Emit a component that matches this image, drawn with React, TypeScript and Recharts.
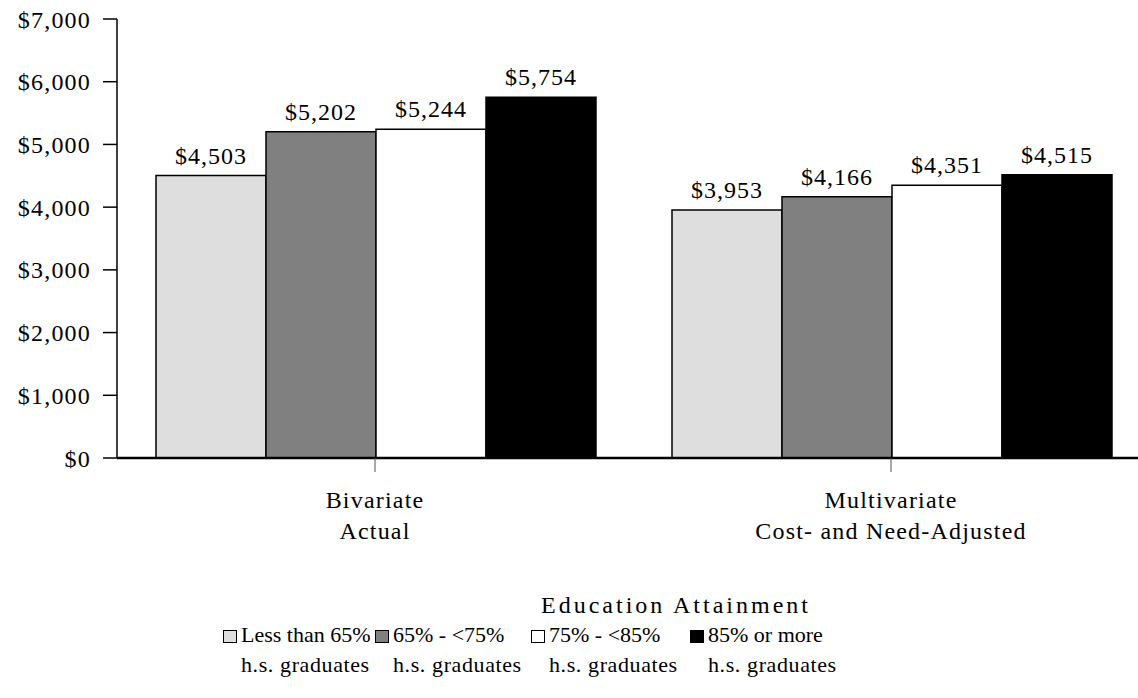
import { Bar, BarChart, LabelList, Legend, XAxis, YAxis } from "recharts";

const categories = [
  ["Bivariate", "Actual"],
  ["Multivariate", "Cost- and Need-Adjusted"],
];
const lessThan65 = [4503, 3953];
const from65to75 = [5202, 4166];
const from75to85 = [5244, 4351];
const over85 = [5754, 4515];
const yTicks = [0, 1000, 2000, 3000, 4000, 5000, 6000, 7000];

const seriesNames = [
  ["Less than 65%", "h.s. graduates"],
  ["65% - <75%", "h.s. graduates"],
  ["75% - <85%", "h.s. graduates"],
  ["85% or more", "h.s. graduates"],
];
const seriesKeys = ["s0", "s1", "s2", "s3"];
const seriesFills = ["#dedede", "#808080", "#ffffff", "#000000"];

const data = categories.map((c, i) => ({
  name: c.join("\n"),
  s0: lessThan65[i],
  s1: from65to75[i],
  s2: from75to85[i],
  s3: over85[i],
}));

const FONT = "Liberation Serif, Times New Roman, serif";
const money = (v: unknown) => "$" + Number(v).toLocaleString("en-US");

function CategoryTick(props: any) {
  const { x, y, payload } = props;
  const lines = String(payload.value).split("\n");
  return (
    <g transform={`translate(${x},${y})`}>
      {lines.map((l, i) => (
        <text
          key={i}
          x={0}
          y={0}
          dy={34 + i * 31}
          textAnchor="middle"
          fill="#000"
          fontSize={24}
          fontFamily={FONT}
          letterSpacing={1.2}
        >
          {l}
        </text>
      ))}
    </g>
  );
}

const itemWidths = [152, 156, 159, 160];

function EduLegend(props: any) {
  const payload = [...(props.payload || [])].sort(
    (a: any, b: any) => seriesKeys.indexOf(a.dataKey) - seriesKeys.indexOf(b.dataKey)
  );
  return (
    <div style={{ height: 110, fontFamily: FONT, fontSize: 22, color: "#000" }}>
      <div style={{ lineHeight: "30px", paddingTop: 2, paddingLeft: 541, fontSize: 24, letterSpacing: 3, whiteSpace: "nowrap" }}>
        Education Attainment
      </div>
      <div style={{ display: "flex", paddingLeft: 223 }}>
        {payload.map((p: any, i: number) => {
          const idx = seriesKeys.indexOf(p.dataKey);
          return (
            <div key={i} style={{ display: "flex", width: itemWidths[idx], alignItems: "flex-start" }}>
              <div
                style={{
                  width: 12,
                  height: 11,
                  marginTop: 10,
                  marginRight: 4,
                  background: seriesFills[idx],
                  border: "1px solid #000",
                  flexShrink: 0,
                }}
              />
              <div style={{ lineHeight: "30px", whiteSpace: "nowrap" }}>
                <div>{seriesNames[idx][0]}</div>
                <div style={{ letterSpacing: 0.6 }}>{seriesNames[idx][1]}</div>
              </div>
            </div>
          );
        })}
      </div>
    </div>
  );
}

export default function App() {
  return (
    <div
      style={{
        position: "absolute",
        left: 0,
        top: 0,
        width: 1138,
        height: 698,
        overflow: "hidden",
        background: "#fff",
        fontFamily: FONT,
      }}
    >
      <BarChart
        width={1160}
        height={698}
        data={data}
        margin={{ top: 19, right: 11, bottom: 0, left: 0 }}
        barCategoryGap={39}
        barGap={0}
      >
        <YAxis
          width={117}
          domain={[0, 7000]}
          ticks={yTicks}
          tickFormatter={money}
          axisLine={{ stroke: "#000", strokeWidth: 1.5 }}
          tickLine={{ stroke: "#000", strokeWidth: 1.5 }}
          tickSize={14}
          tickMargin={12}
          tick={{ fill: "#000", fontSize: 24, fontFamily: FONT, letterSpacing: 1.2 }}
        />
        <XAxis
          dataKey="name"
          height={130}
          axisLine={{ stroke: "#000", strokeWidth: 2.5 }}
          tickLine={{ stroke: "#555", strokeWidth: 1 }}
          tickSize={14}
          tick={<CategoryTick />}
          interval={0}
        />
        <Legend verticalAlign="bottom" content={<EduLegend />} />
        {seriesKeys.map((k, i) => (
          <Bar
            key={k}
            dataKey={k}
            name={seriesNames[i].join(" ")}
            fill={seriesFills[i]}
            stroke="#000"
            strokeWidth={1.5}
            isAnimationActive={false}
          >
            <LabelList
              dataKey={k}
              position="top"
              offset={12}
              formatter={money}
              fill="#000"
              fontSize={24}
              fontFamily={FONT}
              letterSpacing={1}
            />
          </Bar>
        ))}
      </BarChart>
    </div>
  );
}
